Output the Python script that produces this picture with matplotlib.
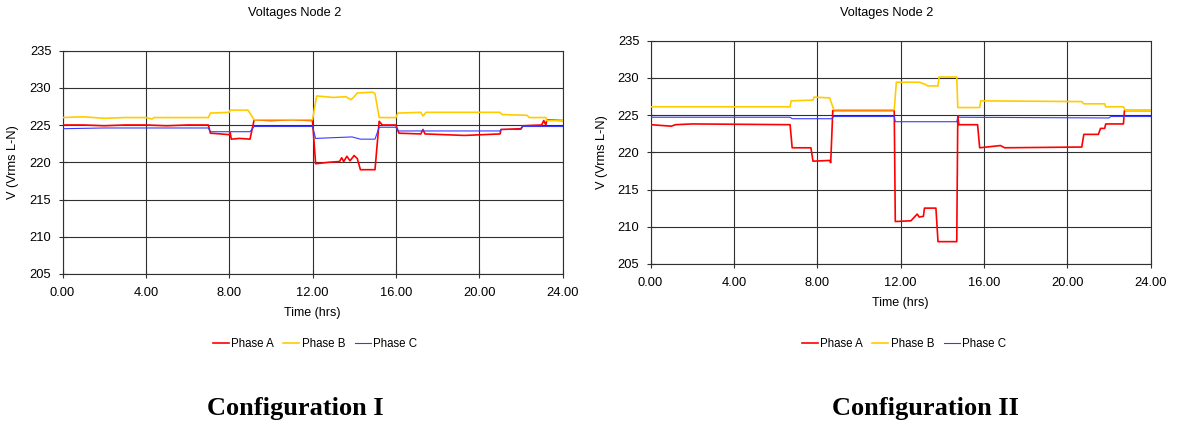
import matplotlib
matplotlib.use('Agg')
import matplotlib.pyplot as plt

plt.rcParams['font.family'] = ['Liberation Sans', 'DejaVu Sans']

# ── data (hours, volts) ──
# Configuration I
t_a1 = [0.0, 1.0, 2.0, 3.0, 4.0, 5.0, 6.0, 7.0, 7.1, 7.6, 8.0, 8.05, 8.1, 8.5, 9.0, 9.2,
        10.0, 11.0, 12.0, 12.15, 12.8, 13.3, 13.4, 13.5, 13.65, 13.8, 14.0, 14.15, 14.3,
        15.0, 15.2, 15.35, 16.0, 16.15, 17.2, 17.3, 17.4, 19.3, 21.0, 21.05, 22.0, 22.1,
        23.0, 23.1, 23.2, 23.25, 24.0]
v_a1 = [225.0, 225.0, 224.9, 225.0, 225.0, 224.9, 225.0, 225.0, 223.9, 223.8, 223.7, 224.0,
        223.1, 223.2, 223.1, 225.7, 225.6, 225.7, 225.6, 219.8, 220.0, 220.1, 220.6, 220.1,
        220.8, 220.2, 220.9, 220.5, 219.0, 219.0, 225.5, 225.0, 225.0, 223.9, 223.8, 224.4,
        223.8, 223.6, 223.8, 224.4, 224.5, 224.9, 225.0, 225.6, 225.0, 225.7, 225.6]

t_b1 = [0.0, 1.0, 2.0, 3.0, 4.0, 4.3, 4.4, 7.0, 7.1, 8.0, 8.05, 8.9, 9.2, 12.0, 12.2, 13.0,
        13.6, 13.85, 14.0, 14.15, 14.9, 15.0, 15.2, 16.0, 16.1, 17.2, 17.3, 17.45, 21.0,
        21.1, 22.3, 22.4, 23.2, 23.25, 24.0]
v_b1 = [226.0, 226.1, 225.9, 226.0, 226.0, 225.8, 226.0, 226.0, 226.6, 226.7, 227.0, 227.0,
        225.7, 225.7, 228.9, 228.7, 228.8, 228.4, 228.8, 229.3, 229.4, 229.2, 226.0, 226.0,
        226.6, 226.7, 226.2, 226.7, 226.7, 226.4, 226.3, 226.0, 226.0, 225.6, 225.6]

t_c1 = [0.0, 2.0, 7.0, 7.1, 9.0, 9.2, 12.0, 12.15, 13.9, 14.3, 15.0, 15.2, 16.0, 16.1,
        21.0, 21.05, 22.0, 22.1, 24.0]
v_c1 = [224.5, 224.6, 224.6, 224.1, 224.1, 224.8, 224.8, 223.2, 223.4, 223.1, 223.1, 224.7,
        224.7, 224.2, 224.2, 224.4, 224.4, 224.8, 224.8]

# Configuration II
t_a2 = [0.0, 1.0, 1.2, 2.0, 6.7, 6.8, 7.7, 7.8, 8.6, 8.65, 8.75, 11.7, 11.75, 12.5, 12.8,
        12.9, 13.1, 13.15, 13.7, 13.8, 14.7, 14.75, 14.8, 15.7, 15.8, 16.8, 17.0, 20.7,
        20.8, 21.5, 21.6, 21.8, 21.85, 22.7, 22.75, 24.0]
v_a2 = [223.7, 223.5, 223.7, 223.8, 223.7, 220.6, 220.6, 218.8, 218.9, 218.6, 225.6, 225.6,
        210.7, 210.8, 211.7, 211.3, 211.4, 212.5, 212.5, 208.0, 208.0, 224.9, 223.7, 223.7,
        220.6, 220.9, 220.6, 220.7, 222.4, 222.4, 223.2, 223.2, 223.8, 223.8, 225.6, 225.6]

t_b2 = [0.0, 6.7, 6.75, 7.8, 7.85, 8.6, 8.8, 11.7, 11.8, 12.9, 13.2, 13.3, 13.8, 13.85,
        14.7, 14.75, 15.8, 15.85, 20.7, 20.8, 21.8, 21.85, 22.7, 22.8, 24.0]
v_b2 = [226.1, 226.1, 226.9, 227.0, 227.4, 227.3, 225.7, 225.7, 229.4, 229.4, 229.1, 228.9,
        228.9, 230.1, 230.1, 226.0, 226.0, 226.9, 226.8, 226.5, 226.5, 226.1, 226.1, 225.6,
        225.6]

t_c2 = [0.0, 6.7, 6.8, 8.7, 8.8, 11.7, 11.75, 14.7, 14.75, 22.0, 22.1, 24.0]
v_c2 = [224.7, 224.7, 224.5, 224.5, 224.8, 224.8, 224.1, 224.1, 224.7, 224.6, 224.8, 224.8]

series_names = ['Phase A', 'Phase B', 'Phase C']
x_ticks = [0, 4, 8, 12, 16, 20, 24]
y_ticks = [205, 210, 215, 220, 225, 230, 235]
captions = ['Configuration I', 'Configuration II']

COLORS = ['#ff0000', '#ffcc00', '#3a3aff']
WIDTHS = [1.2, 1.2, 0.8]

W, H = 1184, 424
fig = plt.figure(figsize=(W / 100, H / 100), dpi=100)
fig.patch.set_facecolor('white')

# pixel placements (left, top, right, bottom of plot area) and text spots
layouts = [
    dict(box=(62.5, 50.5, 562.5, 274), title_x=295, yl_x=19, leg_x=315, cap_x=295),
    dict(box=(650.5, 40.5, 1150.5, 264), title_x=887, yl_x=608, leg_x=904, cap_x=925),
]
data = [
    [(t_a1, v_a1), (t_b1, v_b1), (t_c1, v_c1)],
    [(t_a2, v_a2), (t_b2, v_b2), (t_c2, v_c2)],
]

for lay, ser, cap in zip(layouts, data, captions):
    l, t, r, b = lay['box']
    rect = [l / W, 1 - b / H, (r - l) / W, (b - t) / H]
    ax = fig.add_axes(rect)
    handles = []
    for (tt, v), c, lw, name in zip(ser, COLORS, WIDTHS, series_names):
        ln, = ax.plot(tt, v, color=c, lw=lw, label=name, zorder=3)
        handles.append(ln)
    ax.set_xlim(0, 24)
    ax.set_ylim(205, 235)
    ax.set_xticks(x_ticks)
    ax.set_xticklabels([f'{x:.2f}' for x in x_ticks])
    ax.set_yticks(y_ticks)
    ax.grid(True, color='#303030', lw=0.8)
    for s in ax.spines.values():
        s.set_color('#303030')
        s.set_linewidth(0.8)
    ax.tick_params(direction='inout', length=6, width=0.8, colors='#303030',
                   labelcolor='black', labelsize=9.3)
    ax.tick_params(axis='x', pad=6)
    ax.tick_params(axis='y', pad=5)
    ax.set_xlabel('Time (hrs)', fontsize=9)
    ax.set_ylabel('V (Vrms L-N)', fontsize=9.2)
    ax.yaxis.set_label_coords(lay['yl_x'] / W, 1 - (t + b) / 2 / H, transform=fig.transFigure)
    ax.xaxis.set_label_coords((l + r) / 2 / W, 1 - (b + 33) / H, transform=fig.transFigure)
    fig.text(lay['title_x'] / W, 1 - 13 / H, 'Voltages Node 2', fontsize=9.2,
             ha='center', va='center')
    fig.legend(handles=handles, loc='center', bbox_to_anchor=(lay['leg_x'] / W, 1 - 344 / H),
               ncol=3, frameon=False, fontsize=8.3, handlelength=1.4, handletextpad=0.2,
               columnspacing=0.8, borderpad=0)
    fig.text(lay['cap_x'] / W, 1 - 408 / H, cap, fontsize=19, fontweight='bold',
             family=['Liberation Serif', 'DejaVu Serif'], ha='center', va='center')

fig.savefig('out.png', dpi=100, facecolor='white')
